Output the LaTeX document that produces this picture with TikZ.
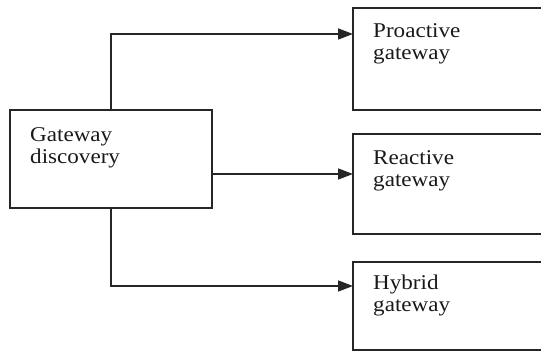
\documentclass[tikz,border=0pt]{standalone}
\usepackage{fontspec}
\setmainfont{Liberation Serif}[FakeStretch=1.1]
\usetikzlibrary{arrows.meta}
\begin{document}
\begin{tikzpicture}[x=1pt,y=-1pt,
  boxstyle/.style={draw=black!85,line width=1.6pt,anchor=north west,inner sep=0pt,outer sep=0pt},
  lbl/.style={anchor=base west,inner sep=0pt,font=\fontsize{21}{21.5}\selectfont,text=black!90},
  conn/.style={draw=black!85,line width=1.6pt,-{Triangle[length=15pt,width=11pt]}}]
\useasboundingbox (0,0) rectangle (541,352);
\clip (0,0) rectangle (541,352);
% boxes
\node[boxstyle,minimum width=202pt,minimum height=98pt] (gd) at (10,110) {};
\node[boxstyle,minimum width=200pt,minimum height=102pt] (pa) at (353,8) {};
\node[boxstyle,minimum width=200pt,minimum height=100pt] (ra) at (353,134) {};
\node[boxstyle,minimum width=200pt,minimum height=88pt] (hy) at (353,262) {};
% texts
\node[lbl] (t1) at (30,142) {Gateway};
\node[lbl] (t2) at (30,163.5) {discovery};
\node[lbl] (t3) at (373,38) {Proactive};
\node[lbl] (t4) at (373,59.5) {gateway};
\node[lbl] (t5) at (373,165) {Reactive};
\node[lbl] (t6) at (373,186.5) {gateway};
\node[lbl] (t7) at (373,290) {Hybrid};
\node[lbl] (t8) at (373,311.5) {gateway};
% connector end points
\coordinate (vx) at (111,0);
\coordinate (pin) at ([yshift=-26pt]pa.north west);
\coordinate (rin) at ([yshift=-40pt]ra.north west);
\coordinate (hin) at ([yshift=-24pt]hy.north west);
% connectors
\draw[conn] (gd.north -| vx) |- (pin);
\draw[conn] (gd.east |- rin) -- (rin);
\draw[conn] (gd.south -| vx) |- (hin);
\end{tikzpicture}
\end{document}
